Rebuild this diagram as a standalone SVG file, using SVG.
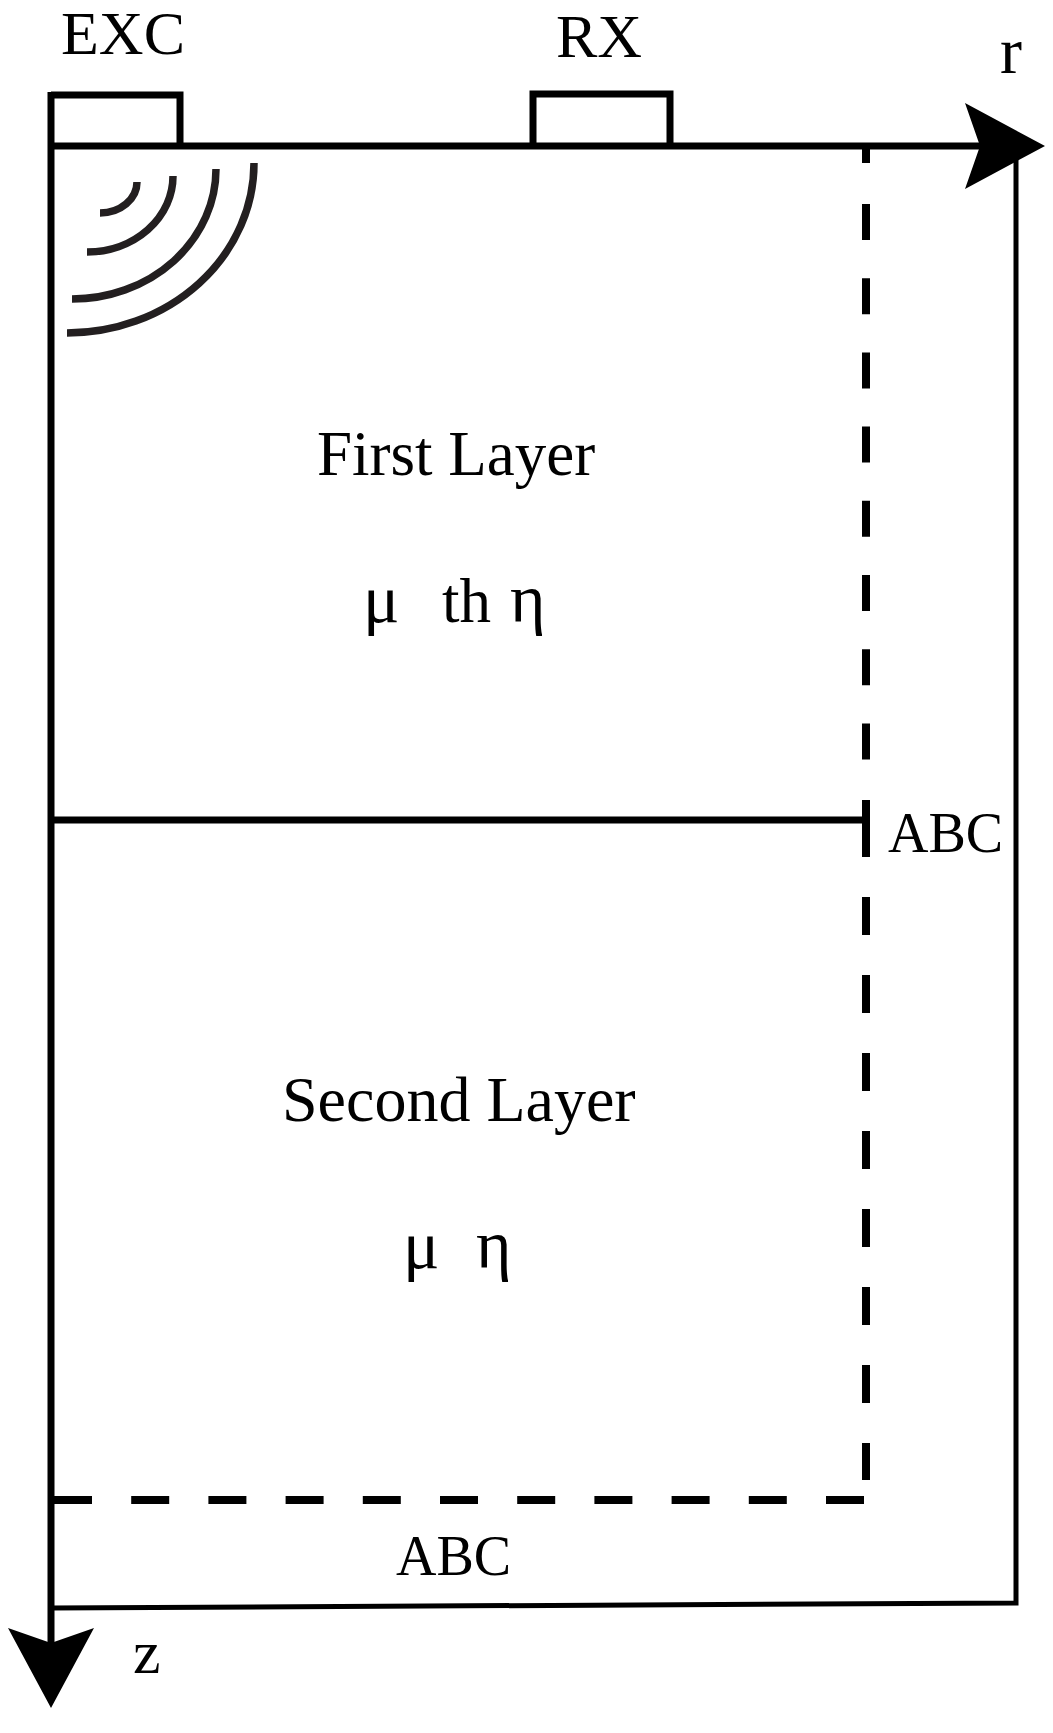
<svg xmlns="http://www.w3.org/2000/svg" width="1053" height="1733" viewBox="0 0 1053 1733">
<style>
  .ax{stroke:#000;stroke-width:7;fill:none;stroke-linecap:butt;stroke-linejoin:miter}
  .bd{stroke:#000;stroke-width:5;fill:none}
  .dash{stroke:#000;stroke-width:8;fill:none}
  .wave{stroke:#231f20;stroke-width:7.5;fill:none;stroke-linecap:butt}
  .t{font-family:"Liberation Serif","Times New Roman",serif;fill:#000}
  .g{font-family:"Liberation Serif","Times New Roman",serif;fill:#000;font-size:68px}
</style>
<defs>
  <path id="ah" d="M0,0 L-80,-43 L-65,0 L-80,43 Z" fill="#000"/>
</defs>
<rect width="1053" height="1733" fill="#fff"/>
<g id="connectors">
  <path class="bd" d="M1016,150 L1016,1603 L51,1608"/>
  <line class="ax" x1="48" y1="146" x2="985" y2="146"/>
  <use href="#ah" transform="translate(1045,146)"/>
  <line class="ax" x1="51" y1="92" x2="51" y2="1650"/>
  <use href="#ah" transform="translate(51,1708) rotate(90)"/>
  <line class="ax" x1="51" y1="820" x2="866" y2="820"/>
  <line class="dash" x1="866" y1="146" x2="866" y2="163"/>
  <line class="dash" x1="866" y1="204" x2="866" y2="764" stroke-dasharray="36 38.2"/>
  <line class="dash" x1="866" y1="800" x2="866" y2="857"/>
  <line class="dash" x1="866" y1="897" x2="866" y2="1480" stroke-dasharray="38 40"/>
  <line class="dash" x1="54" y1="1500" x2="866" y2="1500" stroke-dasharray="38 39.2"/>
</g>
<g id="exc">
  <path class="ax" d="M51,95 L180,95 L180,146"/>
  <text class="t" x="61" y="54" font-size="62">EXC</text>
</g>
<g id="rx">
  <path class="ax" d="M533,146 L533,94 L670,94 L670,146"/>
  <text class="t" x="556" y="57" font-size="62">RX</text>
</g>
<g id="waves">
  <path class="wave" d="M137,182 A37 31 0 0 1 100,213"/>
  <path class="wave" d="M173,176 A86 76 0 0 1 87,252"/>
  <path class="wave" d="M216,169 A144 130 0 0 1 72,299"/>
  <path class="wave" d="M254,163 A187 170 0 0 1 67,333"/>
</g>
<g id="first-layer">
  <text class="t" x="317" y="475" font-size="63">First Layer</text>
  <text class="g" x="363" y="622">μ</text>
  <text class="t" x="442" y="622" font-size="63">th</text>
  <text class="g" x="510" y="622">η</text>
</g>
<g id="second-layer">
  <text class="t" x="282" y="1121" font-size="64">Second Layer</text>
  <text class="g" x="403" y="1268">μ</text>
  <text class="g" x="476" y="1268">η</text>
</g>
<g id="labels">
  <text class="t" x="1000" y="73" font-size="66">r</text>
  <text class="t" x="888" y="852" font-size="56">ABC</text>
  <text class="t" x="396" y="1575" font-size="56">ABC</text>
  <text class="t" x="133" y="1673" font-size="62">z</text>
</g>
</svg>
